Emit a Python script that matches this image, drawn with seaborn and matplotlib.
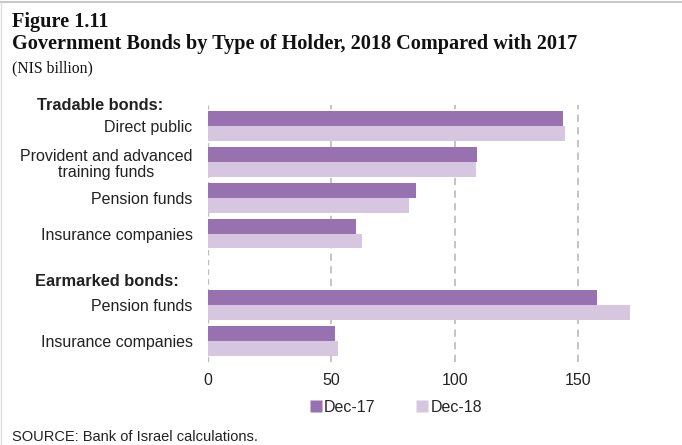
import matplotlib
matplotlib.use("Agg")
import matplotlib.pyplot as plt
import seaborn as sns
import pandas as pd
from matplotlib.lines import Line2D

# Data
keys = ["Direct public", "Provident", "Pension T", "Insurance T", "gap", "Pension E", "Insurance E"]
labels = ["Direct public", "Provident and advanced\ntraining funds", "Pension funds",
          "Insurance companies", "", "Pension funds", "Insurance companies"]
dec17 = [143.8, 109.0, 84.3, 59.9, None, 157.7, 51.5]
dec18 = [144.9, 108.5, 81.6, 62.6, None, 171.2, 52.6]
series = ["Dec-17", "Dec-18"]
colors = ["#9771B0", "#D7C6E0"]
xticks = [0, 50, 100, 150]

rows = []
for k, a, b in zip(keys, dec17, dec18):
    if a is not None:
        rows.append({"cat": k, "series": "Dec-17", "value": a})
        rows.append({"cat": k, "series": "Dec-18", "value": b})
df = pd.DataFrame(rows)

sns.set_theme(style="white")
plt.rcParams["font.family"] = ["Liberation Sans", "DejaVu Sans"]

fig = plt.figure(figsize=(6.82, 4.45), dpi=100)
ax = fig.add_axes([208/682, 1-362/445, (180*2.467)/682, (362-105)/445])

sns.barplot(data=df, y="cat", x="value", hue="series", order=keys, hue_order=series,
            palette=colors, width=0.84, orient="h", ax=ax, legend=True, saturation=1,
            edgecolor="none")

ax.set_xlim(0, 180)
ax.set_ylim(6.6, -0.6)
ax.set_xticks(xticks)
ax.set_xticklabels([str(t) for t in xticks], fontsize=11.5, color="#222222")
ax.set_yticks(range(len(keys)))
ax.set_yticklabels(labels, fontsize=11.5, color="#222222", linespacing=1.1)
ax.tick_params(axis="both", length=0)
ax.tick_params(axis="x", pad=8)
ax.tick_params(axis="y", pad=11)
ax.set_xlabel("")
ax.set_ylabel("")
for s in ax.spines.values():
    s.set_visible(False)
for t in xticks:
    ax.axvline(t, color="#BFBFBF", linestyle=(0, (4, 3)), linewidth=1.3 if t else 1.0, zorder=0)

for lab in ax.get_yticklabels():
    lab.set_horizontalalignment("right")
    lab.set_multialignment("center")

leg = ax.legend(handles=[Line2D([], [], marker="s", linestyle="none", markersize=8,
                                markerfacecolor=c, markeredgecolor="none") for c in colors],
                labels=series, loc="center", ncol=2, frameon=False, fontsize=11.5,
                handlelength=0.7, handletextpad=0.15, columnspacing=2.6,
                bbox_to_anchor=(396/682, 1-407/445), bbox_transform=fig.transFigure)

fig.text(100/682, 1-105/445, "Tradable bonds:", fontsize=11.8, fontweight="bold",
         ha="center", va="center", color="#222222")
fig.text(107/682, 1-281/445, "Earmarked bonds:", fontsize=11.8, fontweight="bold",
         ha="center", va="center", color="#222222")

fig.text(12/682, 1-22/445, "Figure 1.11", fontsize=14.6, fontweight="bold",
         family=["Liberation Serif"], ha="left", va="center", color="#111111")
fig.text(12/682, 1-44/445, "Government Bonds by Type of Holder, 2018 Compared with 2017",
         fontsize=14.6, fontweight="bold", family=["Liberation Serif"], ha="left", va="center",
         color="#111111")
fig.text(12/682, 1-68/445, "(NIS billion)", fontsize=11.3, family=["Liberation Serif"],
         ha="left", va="center", color="#111111")
fig.text(12/682, 1-437/445, "SOURCE: Bank of Israel calculations.", fontsize=10.5,
         ha="left", va="center", color="#222222")

fig.add_artist(Line2D([0, 1], [1-2/445, 1-2/445], transform=fig.transFigure, color="#C8C8C8", lw=1.5))
fig.add_artist(Line2D([1/682, 1/682], [0, 1-2/445], transform=fig.transFigure, color="#DDDDDD", lw=1))

fig.savefig("out.png", dpi=100)
